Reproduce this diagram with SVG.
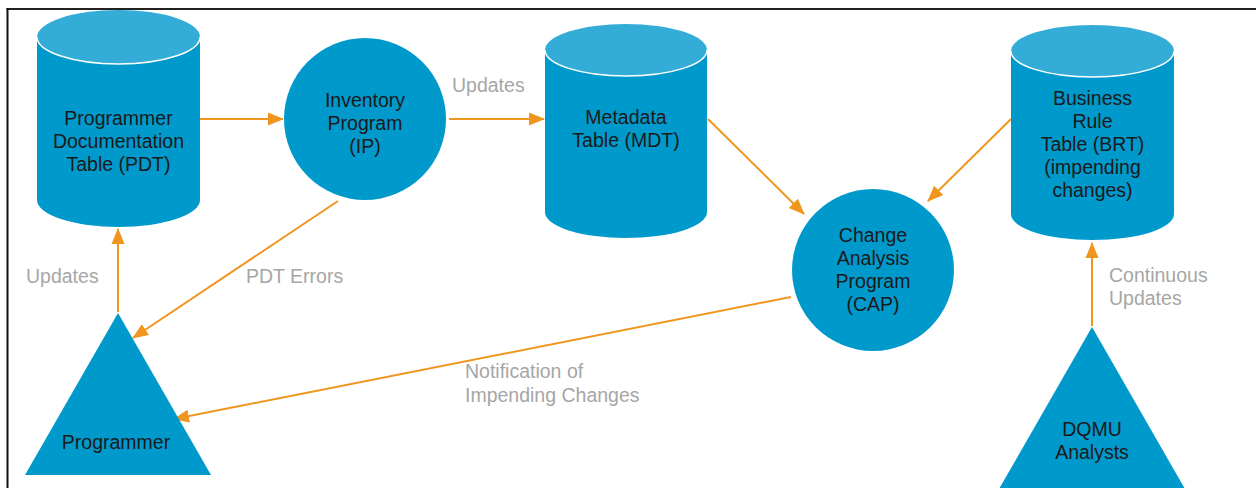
<svg xmlns="http://www.w3.org/2000/svg" width="1256" height="488" viewBox="0 0 1256 488">
<defs>
<style>
.body{fill:#0099CC}
.top{fill:#33ADD7}
.rim{fill:none;stroke:#FFFFFF;stroke-width:1.5}
.nt{font-family:"Liberation Sans",Arial,sans-serif;font-size:19.5px;fill:#1A1A1A;text-anchor:middle}
.lb{font-family:"Liberation Sans",Arial,sans-serif;font-size:19.5px;fill:#A6A6A6}
.ln{fill:none;stroke:#F0961E;stroke-width:2;marker-end:url(#ah)}
</style>
<marker id="ah" markerUnits="userSpaceOnUse" markerWidth="16" markerHeight="16" refX="15" refY="8" orient="auto">
<path d="M0,1.5 L16,8 L0,14.5 Z" fill="#F0961E"/>
</marker>
</defs>
<rect width="1256" height="488" fill="#FFFFFF"/>
<g id="frame">
<line x1="6.5" y1="9" x2="1256" y2="9" stroke="#222" stroke-width="2"/>
<line x1="7.5" y1="8" x2="7.5" y2="488" stroke="#111" stroke-width="2"/>
</g>
<g id="connectors">
<line class="ln" x1="200" y1="119" x2="283" y2="119"/>
<line class="ln" x1="449" y1="119" x2="544" y2="119"/>
<line class="ln" x1="708" y1="119" x2="804" y2="214"/>
<line class="ln" x1="1011" y1="119" x2="928" y2="201"/>
<line class="ln" x1="338" y1="201" x2="133" y2="338"/>
<line class="ln" x1="118" y1="312" x2="118" y2="229"/>
<line class="ln" x1="791" y1="297" x2="174" y2="419"/>
<line class="ln" x1="1092" y1="326" x2="1092" y2="243"/>
</g>
<g id="labels">
<text class="lb" x="452" y="92">Updates</text>
<text class="lb" x="26" y="283">Updates</text>
<text class="lb" x="246" y="283">PDT Errors</text>
<text class="lb" x="465" y="378">Notification of</text>
<text class="lb" x="465" y="402">Impending Changes</text>
<text class="lb" x="1109" y="282">Continuous</text>
<text class="lb" x="1109" y="305">Updates</text>
</g>
<g id="pdt">
<path class="body" d="M37,37 V200 A81.5,27 0 0 0 200,200 V37 Z"/>
<ellipse class="top" cx="118.5" cy="37" rx="81.5" ry="27"/>
<path class="rim" d="M37,37 A81.5,27 0 0 0 200,37"/>
<text class="nt" x="118.5" y="125">Programmer</text>
<text class="nt" x="118.5" y="148">Documentation</text>
<text class="nt" x="118.5" y="171">Table (PDT)</text>
</g>
<g id="ip">
<circle class="body" cx="365" cy="119" r="81"/>
<text class="nt" x="365" y="107">Inventory</text>
<text class="nt" x="365" y="130">Program</text>
<text class="nt" x="365" y="153">(IP)</text>
</g>
<g id="mdt">
<path class="body" d="M545,50 V212 A81,26 0 0 0 707,212 V50 Z"/>
<ellipse class="top" cx="626" cy="50" rx="81" ry="26"/>
<path class="rim" d="M545,50 A81,26 0 0 0 707,50"/>
<text class="nt" x="626" y="124">Metadata</text>
<text class="nt" x="626" y="147">Table (MDT)</text>
</g>
<g id="brt">
<path class="body" d="M1011,51 V214 A81.5,26 0 0 0 1174,214 V51 Z"/>
<ellipse class="top" cx="1092.5" cy="51" rx="81.5" ry="26"/>
<path class="rim" d="M1011,51 A81.5,26 0 0 0 1174,51"/>
<text class="nt" x="1092.5" y="105">Business</text>
<text class="nt" x="1092.5" y="128">Rule</text>
<text class="nt" x="1092.5" y="151">Table (BRT)</text>
<text class="nt" x="1092.5" y="174">(impending</text>
<text class="nt" x="1092.5" y="197">changes)</text>
</g>
<g id="cap">
<circle class="body" cx="873" cy="270" r="81"/>
<text class="nt" x="873" y="242">Change</text>
<text class="nt" x="873" y="265">Analysis</text>
<text class="nt" x="873" y="288">Program</text>
<text class="nt" x="873" y="311">(CAP)</text>
</g>
<g id="programmer">
<polygon class="body" points="118,313 211,475 25,475"/>
<text class="nt" x="116" y="449">Programmer</text>
</g>
<g id="dqmu">
<polygon class="body" points="1092,327 1185,489 999,489"/>
<text class="nt" x="1092" y="436">DQMU</text>
<text class="nt" x="1092" y="459">Analysts</text>
</g>
</svg>
